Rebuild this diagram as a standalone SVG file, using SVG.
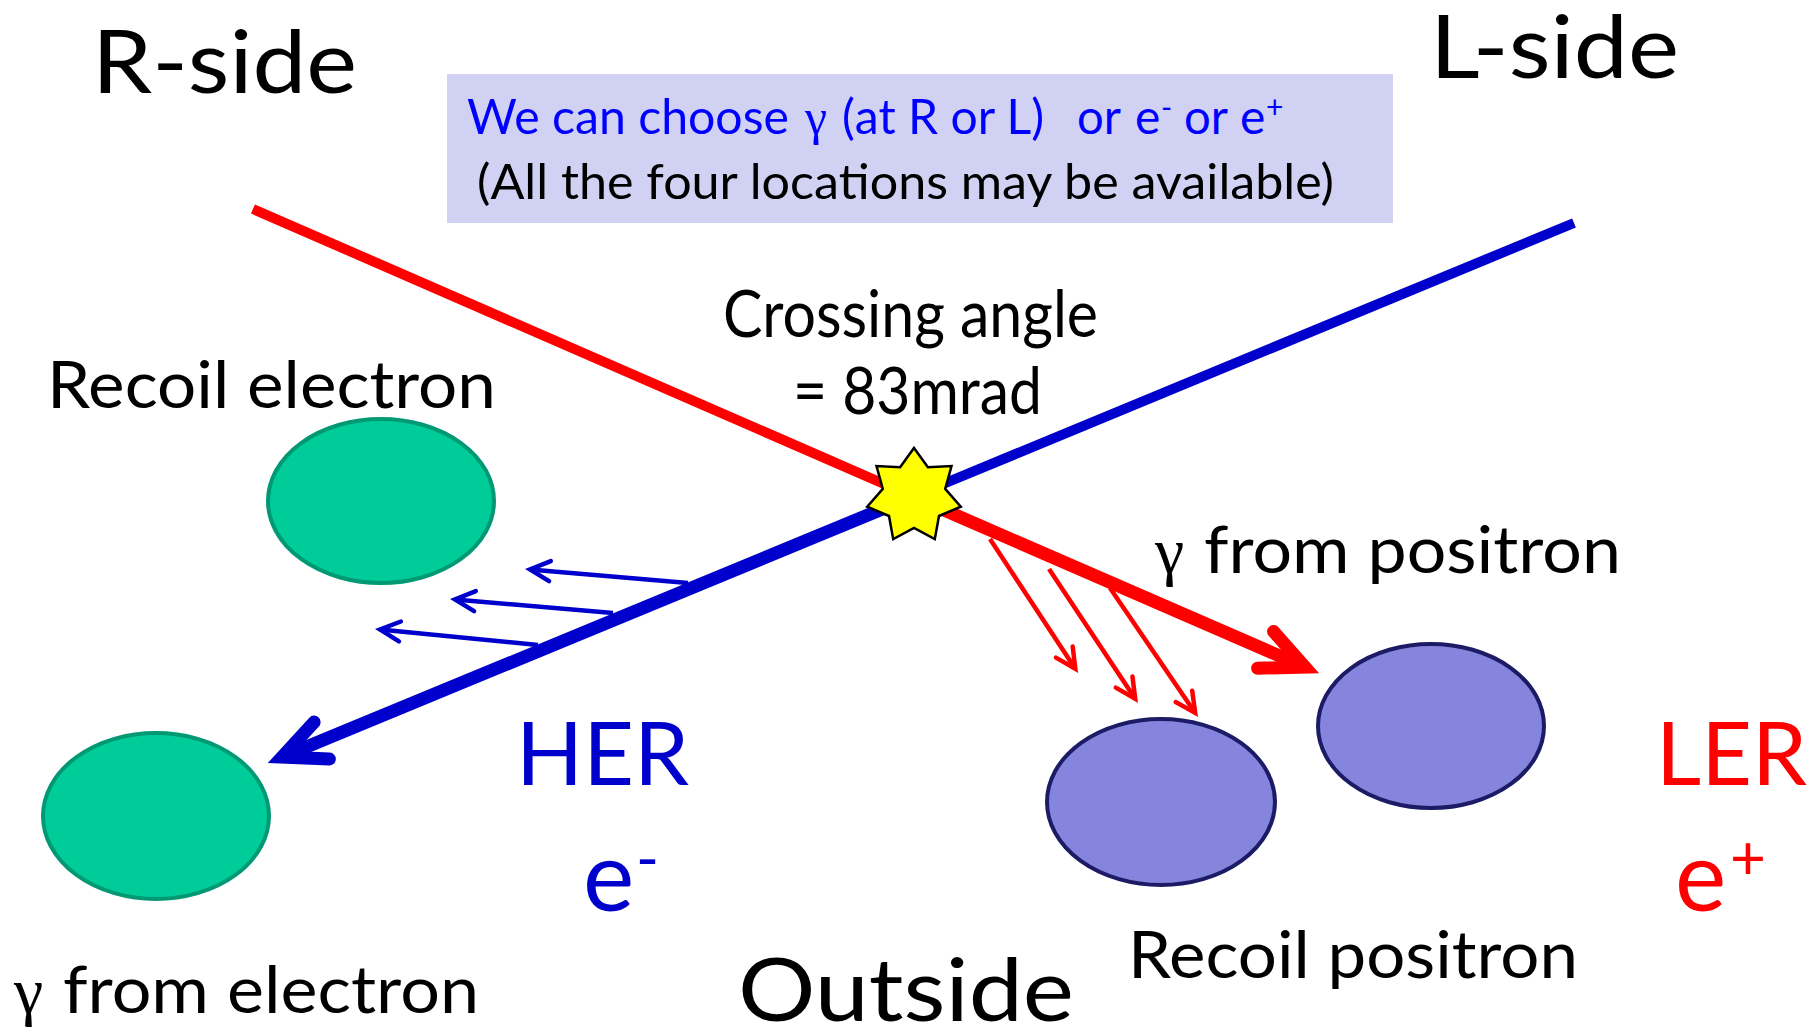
<svg xmlns="http://www.w3.org/2000/svg" width="1819" height="1028" viewBox="0 0 1819 1028">
<style>
  text { font-family: Lato, "Liberation Sans", sans-serif; }
  .big { font-size: 88px; fill: #000; }
  .med { font-size: 66px; fill: #000; }
  .box { font-size: 48px; }
  .g { font-family: "Liberation Serif", "DejaVu Serif", serif; }
  .blue { fill: #0000CC; }
  .red { fill: #FF0000; }
  .beamR { stroke: #FF0000; stroke-width: 10; fill: none; }
  .beamB { stroke: #0000CC; stroke-width: 10; fill: none; }
  .thickR { stroke: #FF0000; stroke-width: 13; fill: none; }
  .thickB { stroke: #0000CC; stroke-width: 13; fill: none; }
  .thinR { stroke: #FF0000; stroke-width: 4.5; fill: none; }
  .thinB { stroke: #0000CC; stroke-width: 4.5; fill: none; }
  .green { fill: #00CC99; stroke: #009973; stroke-width: 4; }
  .purple { fill: #8585DE; stroke: #1C1C66; stroke-width: 4; }
</style>
<defs>
  <marker id="bigR" markerUnits="userSpaceOnUse" orient="auto" viewBox="-60 -40 80 80" markerWidth="80" markerHeight="80" refX="0" refY="0" overflow="visible">
    <path d="M -43 -20 L 0 0 L -43 20" fill="none" stroke="#FF0000" stroke-width="13" stroke-linecap="round" stroke-linejoin="miter" stroke-miterlimit="10"/>
  </marker>
  <marker id="bigB" markerUnits="userSpaceOnUse" orient="auto" viewBox="-60 -40 80 80" markerWidth="80" markerHeight="80" refX="0" refY="0" overflow="visible">
    <path d="M -43 -20 L 0 0 L -43 20" fill="none" stroke="#0000CC" stroke-width="13" stroke-linecap="round" stroke-linejoin="miter" stroke-miterlimit="10"/>
  </marker>
  <marker id="smR" markerUnits="userSpaceOnUse" orient="auto" viewBox="-30 -20 40 40" markerWidth="40" markerHeight="40" refX="0" refY="0" overflow="visible">
    <path d="M -20 -10 L 0 0 L -20 10" fill="none" stroke="#FF0000" stroke-width="4.5" stroke-linecap="round" stroke-linejoin="miter" stroke-miterlimit="10"/>
  </marker>
  <marker id="smB" markerUnits="userSpaceOnUse" orient="auto" viewBox="-30 -20 40 40" markerWidth="40" markerHeight="40" refX="0" refY="0" overflow="visible">
    <path d="M -20 -10 L 0 0 L -20 10" fill="none" stroke="#0000CC" stroke-width="4.5" stroke-linecap="round" stroke-linejoin="miter" stroke-miterlimit="10"/>
  </marker>
</defs>
<rect width="1819" height="1028" fill="#FFFFFF"/>

<g id="title-box">
  <rect x="447" y="74" width="946" height="149" fill="#D1D1F3"/>
  <text class="box" fill="#0000FF"><tspan x="467" y="134" textLength="322" lengthAdjust="spacingAndGlyphs">We can choose</tspan><tspan class="g" x="805" y="134" font-size="50">γ</tspan><tspan x="842" y="134" textLength="202" lengthAdjust="spacingAndGlyphs">(at R or L)</tspan><tspan x="1077" y="134" textLength="44" lengthAdjust="spacingAndGlyphs">or</tspan><tspan x="1135" y="134">e</tspan><tspan x="1161" y="118" font-size="30">-</tspan><tspan x="1184" y="134" textLength="44" lengthAdjust="spacingAndGlyphs">or</tspan><tspan x="1240" y="134">e</tspan><tspan x="1266" y="118" font-size="30">+</tspan></text>
  <text class="box" fill="#000" x="477" y="199" textLength="857" lengthAdjust="spacingAndGlyphs">(All the four locations may be available)</text>
</g>

<g id="labels">
  <text class="big" x="92" y="93" textLength="265" lengthAdjust="spacingAndGlyphs">R-side</text>
  <text class="big" x="1430" y="78" textLength="249" lengthAdjust="spacingAndGlyphs">L-side</text>
  <text class="big" x="738" y="1021" textLength="336" lengthAdjust="spacingAndGlyphs">Outside</text>
  <text class="med" x="723" y="337" textLength="375" lengthAdjust="spacingAndGlyphs">Crossing angle</text>
  <text class="med" x="793" y="414" textLength="249" lengthAdjust="spacingAndGlyphs">= 83mrad</text>
</g>

<g id="her-label">
  <text class="big blue" x="516" y="785" textLength="173" lengthAdjust="spacingAndGlyphs">HER</text>
  <text class="big blue"><tspan x="583" y="911" font-size="97">e</tspan><tspan x="636" y="880" font-size="62">-</tspan></text>
</g>
<g id="ler-label">
  <text class="big red" x="1656" y="785" textLength="151" lengthAdjust="spacingAndGlyphs">LER</text>
  <text class="big red"><tspan x="1675" y="911" font-size="97">e</tspan><tspan x="1730" y="879" font-size="62">+</tspan></text>
</g>

<g id="connectors">
  <line class="beamR" x1="253" y1="209" x2="914" y2="497"/>
  <line class="thickR" x1="914" y1="497" x2="1305" y2="667" marker-end="url(#bigR)"/>
  <line class="beamB" x1="1574" y1="223" x2="914" y2="496"/>
  <line class="thickB" x1="914" y1="496" x2="282" y2="757" marker-end="url(#bigB)"/>
  <line class="thinB" x1="688" y1="583" x2="530" y2="569.4" marker-end="url(#smB)"/>
  <line class="thinB" x1="613" y1="613" x2="455" y2="599.4" marker-end="url(#smB)"/>
  <line class="thinB" x1="538" y1="645" x2="380" y2="629.5" marker-end="url(#smB)"/>
  <line class="thinR" x1="990" y1="539" x2="1075.3" y2="668.8" marker-end="url(#smR)"/>
  <line class="thinR" x1="1049" y1="569" x2="1135.2" y2="698.8" marker-end="url(#smR)"/>
  <line class="thinR" x1="1110" y1="588" x2="1195.2" y2="712.9" marker-end="url(#smR)"/>
</g>

<g id="ip-star">
  <polygon points="914,448 927.9,467.2 951.5,466.1 945.2,488.9 960.8,506.7 939,516 934.8,539.2 914,528 893.2,539.2 889,516 867.2,506.7 882.8,488.9 876.5,466.1 900.1,467.2" fill="#FFFF00" stroke="#000" stroke-width="2.5" stroke-linejoin="miter"/>
</g>

<g id="recoil-electron">
  <ellipse class="green" cx="381" cy="501" rx="113" ry="82"/>
  <text class="med" x="47" y="408" textLength="449" lengthAdjust="spacingAndGlyphs">Recoil electron</text>
</g>
<g id="gamma-electron">
  <ellipse class="green" cx="156" cy="816" rx="113" ry="83"/>
  <text class="med"><tspan class="g" x="14" y="1013">γ</tspan><tspan x="63" y="1013" textLength="416" lengthAdjust="spacingAndGlyphs">from electron</tspan></text>
</g>
<g id="gamma-positron">
  <ellipse class="purple" cx="1431" cy="726" rx="113" ry="82"/>
  <text class="med"><tspan class="g" x="1155" y="573">γ</tspan><tspan x="1204" y="573" textLength="417" lengthAdjust="spacingAndGlyphs">from positron</tspan></text>
</g>
<g id="recoil-positron">
  <ellipse class="purple" cx="1161" cy="802" rx="114" ry="83"/>
  <text class="med" x="1128" y="978" textLength="450" lengthAdjust="spacingAndGlyphs">Recoil positron</text>
</g>
</svg>
